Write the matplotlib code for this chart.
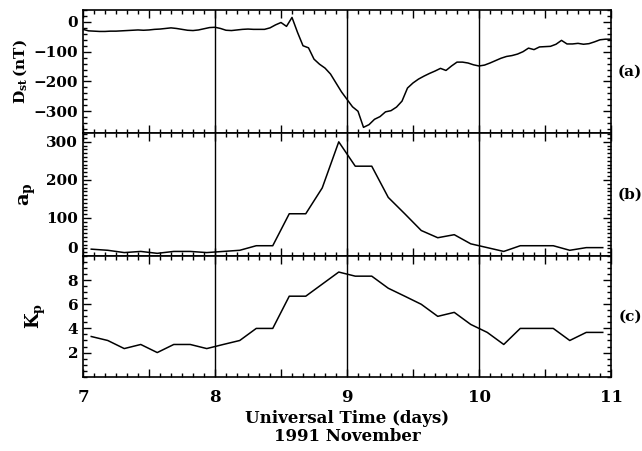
import matplotlib.pyplot as plt
import numpy as np
from matplotlib.ticker import MultipleLocator

plt.rcParams['font.family'] = 'DejaVu Serif'
plt.rcParams['font.weight'] = 'bold'
plt.rcParams['axes.labelweight'] = 'bold'
plt.rcParams['mathtext.fontset'] = 'dejavuserif'

# Dst hourly (nT), Nov 7 00 UT .. Nov 11 00 UT
dst = [-25, -30, -31, -32, -32, -31, -31, -30, -29, -28, -27, -28,
       -27, -25, -24, -22, -20, -22, -25, -28, -29, -27, -23, -19,
       -18, -22, -28, -29, -27, -25, -24, -25, -25, -25, -20, -10,
       -2, -15, 15, -35, -80, -87, -125, -142, -155, -175, -205, -235,
       -260, -285, -300, -354, -345, -327, -318, -302, -298, -286, -266, -222,
       -205, -192, -182, -173, -165, -156, -163, -148, -135, -135, -138, -144,
       -148, -145, -138, -130, -122, -116, -113, -108, -100, -88, -93, -84,
       -83, -82, -75, -62, -74, -74, -72, -75, -73, -67, -60, -58, -58]
dst_days = 7 + np.arange(len(dst)) / 24

# 3-hourly ap and Kp
ap = [18, 15, 9, 12, 7, 12, 12, 9, 12, 15, 27, 27, 111, 111, 179, 300,
      236, 236, 154, 111, 67, 48, 56, 32, 22, 12, 27, 27, 27, 15, 22, 22]
kp = [3.33, 3.0, 2.33, 2.67, 2.0, 2.67, 2.67, 2.33, 2.67, 3.0, 4.0, 4.0,
      6.67, 6.67, 7.67, 8.67, 8.33, 8.33, 7.33, 6.67, 6.0, 5.0, 5.33, 4.33,
      3.67, 2.67, 4.0, 4.0, 4.0, 3.0, 3.67, 3.67]
kp_days = 7 + (np.arange(len(kp)) + 0.5) / 8

day_lines = [8, 9, 10]

fig = plt.figure(figsize=(6.42, 4.51), dpi=100)
left, width = 83 / 642, 528 / 642
tops = [10, 132.7, 256, 376.7]
axes = []
for i in range(3):
    b = 1 - tops[i + 1] / 451
    h = (tops[i + 1] - tops[i]) / 451
    axes.append(fig.add_axes([left, b, width, h]))
ax_a, ax_b, ax_c = axes

ax_a.plot(dst_days, dst, color='black', lw=1.1)
ax_b.plot(kp_days, ap, color='black', lw=1.1)
ax_c.plot(kp_days, kp, color='black', lw=1.1)

ax_a.set_ylim(-372, 40)
ax_a.set_yticks([0, -100, -200, -300])
ax_a.yaxis.set_minor_locator(MultipleLocator(20))
ax_b.set_ylim(0, 324)
ax_b.set_yticks([0, 100, 200, 300])
ax_b.yaxis.set_minor_locator(MultipleLocator(10))
ax_c.set_ylim(0, 10)
ax_c.set_yticks([2, 4, 6, 8])
ax_c.yaxis.set_minor_locator(MultipleLocator(0.5))

for ax in axes:
    ax.set_xlim(7, 11)
    ax.xaxis.set_major_locator(MultipleLocator(0.5))
    ax.xaxis.set_minor_locator(MultipleLocator(1 / 12))
    ax.tick_params(which='both', direction='in', top=True, right=True,
                   labelsize=11, width=1)
    ax.tick_params(which='major', length=6)
    ax.tick_params(which='minor', length=3)
    for s in ax.spines.values():
        s.set_linewidth(1.2)
    for d in day_lines:
        ax.axvline(d, color='black', lw=1)
    ax.tick_params(axis='x', labelbottom=False)

ax_c.set_xticks(np.arange(7, 11.01, 0.5))
ax_c.set_xticklabels(['7', '', '8', '', '9', '', '10', '', '11'])
ax_c.tick_params(axis='x', labelbottom=True, pad=9, labelsize=12)

# lift the "0" label of the ap panel off the bottom edge
for lab in ax_b.get_yticklabels():
    if lab.get_text() == '0':
        lab.set_verticalalignment('bottom')

ax_a.set_ylabel(r'$\mathbf{D_{st}\,(nT)}$', fontsize=11, labelpad=3)
ax_b.set_ylabel(r'$\mathbf{a_p}$', fontsize=14, labelpad=6)
ax_c.set_ylabel(r'$\mathbf{K_p}$', fontsize=13, labelpad=14)

for ax, tag in zip(axes, ['(a)', '(b)', '(c)']):
    ax.text(1.036, 0.5, tag, transform=ax.transAxes, fontsize=11,
            va='center', ha='center')

ax_c.set_xlabel('Universal Time (days)\n1991 November', fontsize=12,
                linespacing=1.05, labelpad=3)

fig.savefig('out.png', dpi=100)
